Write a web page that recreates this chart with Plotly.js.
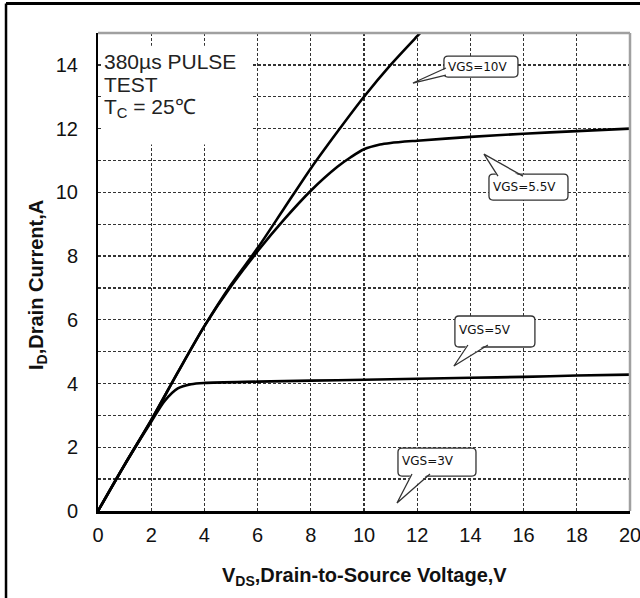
<!DOCTYPE html>
<html><head><meta charset="utf-8">
<script src="https://cdn.plot.ly/plotly-3.0.1.min.js"></script>
<style>html,body{margin:0;padding:0;background:#fff}#chart{width:640px;height:598px}</style>
</head><body><div id="chart"></div>
<script>
// ---- data ----
const vds10 = [0, 1, 2, 3, 4, 5, 6, 7, 8, 9, 10, 11, 12, 12.4];
const id10  = [0, 1.45, 2.85, 4.35, 5.8, 7.1, 8.25, 9.5, 10.75, 11.9, 13.0, 14.0, 14.9, 15.25];

const vds55 = [0, 1, 2, 3, 4, 5, 6, 7, 8, 9, 9.5, 10, 10.6, 11, 12, 14, 16, 18, 20];
const id55  = [0, 1.45, 2.85, 4.35, 5.8, 7.05, 8.15, 9.15, 10.05, 10.8, 11.1, 11.35, 11.5, 11.55, 11.62, 11.74, 11.84, 11.92, 12.0];

const vds5 = [0, 1, 2, 2.5, 3, 3.5, 4, 6, 8, 10, 12, 14, 16, 18, 20];
const id5  = [0, 1.45, 2.8, 3.45, 3.85, 3.98, 4.02, 4.06, 4.09, 4.12, 4.15, 4.18, 4.21, 4.25, 4.28];

const xTickVals = [0, 2, 4, 6, 8, 10, 12, 14, 16, 18, 20];
const xTickText = ['0', '2', '4', '6', '8', '10', '12', '14', '16', '18', '20'];
const yTickVals = [0, 2, 4, 6, 8, 10, 12, 14];
const yTickText = ['0', '2', '4', '6', '8', '10', '12', '14'];

const calloutLabels = ['VGS=10V', 'VGS=5.5V', 'VGS=5V', 'VGS=3V'];
const calloutTipV   = [11.84, 14.51, 13.38, 11.24];
const calloutTipI   = [13.43, 11.20, 4.55, 0.25];

const noteLines = ['380µs PULSE', 'TEST', 'T<sub>C</sub> = 25℃'];
const xTitle = '<b>V<sub>DS</sub>,Drain-to-Source Voltage,V</b>';
const yTitle = '<b>I<sub>D</sub>,Drain Current,A</b>';

// ---- styling / geometry ----
const FONT = 'Liberation Sans, Arial, sans-serif';
const gridStyle = {gridcolor: '#333', griddash: '3px,2px', gridwidth: 1.3};
// callout geometry in pixels relative to the tip (y up)
const calloutGeom = [
  {box: [31, 6, 105, 27], ta: [33, 8], tb: [33, 15], tx: 33, ty: 16.5, edge: 'left'},
  {box: [5, -46, 84, -20], ta: [14, -22], tb: [39, -22], tx: 7, ty: -33, edge: 'top'},
  {box: [1, 19, 81, 50], ta: [14, 21], tb: [34, 21], tx: 3, ty: 36, edge: 'bottom'},
  {box: [1, 27, 79, 55], ta: [15, 29], tb: [33, 29], tx: 3, ty: 42, edge: 'bottom'}
];

function rr(x0, y0, x1, y1, r) {
  return `M${x0 + r},${y0} L${x1 - r},${y0} Q${x1},${y0} ${x1},${y0 + r} L${x1},${y1 - r} Q${x1},${y1} ${x1 - r},${y1} ` +
         `L${x0 + r},${y1} Q${x0},${y1} ${x0},${y1 - r} L${x0},${y0 + r} Q${x0},${y0} ${x0 + r},${y0} Z`;
}

const lineStyle = {color: '#000', width: 2.6, shape: 'spline', smoothing: 0.8};
const traces = [
  {x: vds10, y: id10, mode: 'lines', line: lineStyle, hoverinfo: 'skip'},
  {x: vds55, y: id55, mode: 'lines', line: lineStyle, hoverinfo: 'skip'},
  {x: vds5, y: id5, mode: 'lines', line: lineStyle, hoverinfo: 'skip'}
];

const shapes = [];
const annotations = [];
shapes.push({type: 'rect', xref: 'x', yref: 'y', x0: 0.15, x1: 5.8, y0: 11.5, y1: 14.6,
  fillcolor: '#fff', line: {width: 0}, layer: 'between'});
shapes.push({type: 'line', xref: 'paper', yref: 'paper', x0: 0, x1: 1, y0: 1, y1: 1, line: {color: '#a0a0a0', width: 2.5}});
shapes.push({type: 'line', xref: 'paper', yref: 'paper', x0: 1, x1: 1, y0: 0, y1: 1, line: {color: '#a0a0a0', width: 2.5}});
shapes.push({type: 'line', xref: 'paper', yref: 'paper', x0: -0.1729, x1: 1.02, y0: 1.0617, y1: 1.0617, line: {color: '#000', width: 3}});
shapes.push({type: 'line', xref: 'paper', yref: 'paper', x0: -0.1729, x1: -0.1729, y0: 1.0617, y1: -0.19, line: {color: '#000', width: 2.5}});

calloutLabels.forEach((lab, i) => {
  const g = calloutGeom[i];
  const base = {type: 'path', xref: 'x', yref: 'y', xsizemode: 'pixel', ysizemode: 'pixel',
    xanchor: calloutTipV[i], yanchor: calloutTipI[i]};
  const [bx0, by0, bx1, by1] = g.box;
  shapes.push(Object.assign({}, base, {path: rr(bx0, by0, bx1, by1, 4), fillcolor: '#fff', line: {color: '#333', width: 1.3}}));
  let ia = g.ta.slice(), ib = g.tb.slice();
  if (g.edge === 'left') { ia[0] += 2; ib[0] += 2; }
  else if (g.edge === 'top') { ia[1] -= 2; ib[1] -= 2; }
  else { ia[1] += 2; ib[1] += 2; }
  shapes.push(Object.assign({}, base, {path: `M${ia[0]},${ia[1]} L0,0 L${ib[0]},${ib[1]} Z`, fillcolor: '#fff', line: {width: 0}}));
  shapes.push(Object.assign({}, base, {path: `M${g.ta[0]},${g.ta[1]} L0,0 L${g.tb[0]},${g.tb[1]}`, line: {color: '#333', width: 1.3}}));
  annotations.push({x: calloutTipV[i], y: calloutTipI[i], xref: 'x', yref: 'y', text: lab, showarrow: false,
    xanchor: 'left', yanchor: 'middle', xshift: g.tx, yshift: g.ty,
    font: {family: 'DejaVu Sans', size: 12, color: '#111'}});
});

noteLines.forEach((t, i) => {
  annotations.push({x: 0.15, y: 14.1, xref: 'x', yref: 'y', text: t, showarrow: false,
    xanchor: 'left', yanchor: 'middle', yshift: -i * 23,
    font: {family: FONT, size: 21, color: '#222'}});
});

annotations.push({xref: 'paper', yref: 'paper', x: 0.5, y: -0.138, text: xTitle, showarrow: false,
  xanchor: 'center', yanchor: 'middle', font: {family: FONT, size: 20, color: '#111'}});
annotations.push({xref: 'paper', yref: 'paper', x: -0.1147, y: 0.4728, text: yTitle, showarrow: false, textangle: -90,
  xanchor: 'center', yanchor: 'middle', font: {family: FONT, size: 20, color: '#111'}});

const layout = {
  width: 640, height: 598,
  margin: {l: 98, r: 10, t: 33, b: 87},
  paper_bgcolor: '#fff', plot_bgcolor: '#fff',
  showlegend: false,
  xaxis: Object.assign({range: [0, 20], tickmode: 'array', tickvals: xTickVals, ticktext: xTickText,
    showgrid: true, zeroline: false, showline: true, linecolor: '#000', linewidth: 3, ticks: '',
    ticklabelstandoff: 4, ticklabeloverflow: 'allow', automargin: false,
    tickfont: {family: FONT, size: 20, color: '#111'}, fixedrange: true}, gridStyle),
  yaxis: Object.assign({range: [0, 15], tickmode: 'array', tickvals: yTickVals, ticktext: yTickText,
    showgrid: true, zeroline: false, showline: true, linecolor: '#000', linewidth: 2, ticks: '',
    ticklabelstandoff: 14, automargin: false, tickfont: {family: FONT, size: 20, color: '#111'}, fixedrange: true,
    minor: Object.assign({dtick: 1, tick0: 0, showgrid: true}, gridStyle)}, gridStyle),
  shapes: shapes,
  annotations: annotations
};

Plotly.newPlot('chart', traces, layout, {staticPlot: true, displayModeBar: false});
</script></body></html>
